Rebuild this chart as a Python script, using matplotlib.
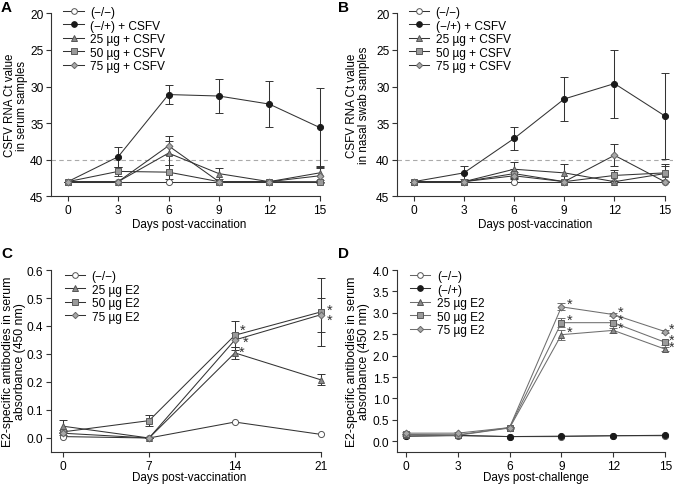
import matplotlib
matplotlib.use("Agg")
import matplotlib.pyplot as plt
from matplotlib.lines import Line2D

plt.rcParams['font.family'] = ['Liberation Sans', 'DejaVu Sans']
plt.rcParams['font.size'] = 8
plt.rcParams['axes.linewidth'] = 0.8

# ---------------- data ----------------
days_ab = [0, 3, 6, 9, 12, 15]
labels_ab = ["(\u2212/\u2212)", "(\u2212/+) + CSFV", "25 \u00b5g + CSFV", "50 \u00b5g + CSFV", "75 \u00b5g + CSFV"]

a_neg = [43, 43, 43, 43, 43, 43]
a_pos = [43, 39.6, 31.1, 31.3, 32.4, 35.6]
a_pos_err = [0, 1.35, 1.35, 2.3, 3.2, 5.4]
a_25 = [43, 43, 39.1, 41.9, 43, 41.8]
a_25_err = [0, 0, 1.6, 0.8, 0, 1.0]
a_50 = [43, 41.6, 41.7, 43, 43, 43]
a_50_err = [0, 0.6, 1.0, 0, 0, 0]
a_75 = [43, 43, 38.1, 43, 43, 42.2]
a_75_err = [0, 0, 1.3, 0, 0, 1.0]

b_neg = [43, 43, 43, 43, 43, 43]
b_pos = [43, 41.8, 37.1, 31.7, 29.6, 34.0]
b_pos_err = [0, 0.9, 1.55, 3.05, 4.65, 5.9]
b_25 = [43, 43, 41.3, 41.8, 43, 41.9]
b_25_err = [0, 0, 1.0, 1.2, 0, 1.0]
b_50 = [43, 43, 41.9, 43, 42.15, 41.8]
b_50_err = [0, 0, 0.6, 0, 0.8, 1.2]
b_75 = [43, 43, 42.2, 43, 39.4, 43]
b_75_err = [0, 0, 0.5, 0, 1.5, 0]

days_c = [0, 7, 14, 21]
labels_c = ["(\u2212/\u2212)", "25 \u00b5g E2", "50 \u00b5g E2", "75 \u00b5g E2"]
c_neg = [0.005, 0.0, 0.057, 0.013]
c_25 = [0.042, 0.0, 0.304, 0.208]
c_25_err = [0.023, 0, 0.022, 0.02]
c_50 = [0.022, 0.062, 0.367, 0.45]
c_50_err = [0.005, 0.02, 0.052, 0.12]
c_75 = [0.017, 0.0, 0.350, 0.44]
c_75_err = [0.005, 0, 0.025, 0.06]

days_d = [0, 3, 6, 9, 12, 15]
labels_d = ["(\u2212/\u2212)", "(\u2212/+)", "25 \u00b5g E2", "50 \u00b5g E2", "75 \u00b5g E2"]
d_neg = [0.12, 0.13, 0.11, 0.11, 0.13, 0.13]
d_pos = [0.12, 0.14, 0.11, 0.12, 0.13, 0.14]
d_25 = [0.15, 0.14, 0.31, 2.49, 2.59, 2.15]
d_25_err = [0.02, 0.02, 0.02, 0.12, 0.06, 0.05]
d_50 = [0.16, 0.15, 0.32, 2.77, 2.77, 2.31]
d_50_err = [0.02, 0.02, 0.02, 0.1, 0.06, 0.05]
d_75 = [0.19, 0.19, 0.32, 3.14, 2.96, 2.56]
d_75_err = [0.02, 0.02, 0.02, 0.08, 0.04, 0.04]

# ---------------- styles ----------------
LC = '#333333'
sty_neg = dict(marker='o', mfc='white', mec='#555555', color=LC)
sty_pos = dict(marker='o', mfc='#1a1a1a', mec='#1a1a1a', color=LC)
sty_25 = dict(marker='^', mfc='#8a8a8a', mec='#555555', color=LC)
sty_50 = dict(marker='s', mfc='#9a9a9a', mec='#5a5a5a', color=LC)
sty_75 = dict(marker='D', mfc='#a8a8a8', mec='#666666', color=LC)
MS = 4.4

def gray_line(sty, c='#6e6e6e'):
    s = dict(sty)
    s['color'] = c
    return s

def msize(sty):
    return MS - 0.9 if sty['marker'] == 'D' else (MS - 0.4 if sty['marker'] == 's' else MS)

def plot_series(ax, x, y, err, sty):
    ax.errorbar(x, y, yerr=err, lw=0.75, elinewidth=0.75,
                capsize=2.8, capthick=0.75, ecolor=sty['color'],
                markersize=msize(sty), markeredgewidth=0.7, clip_on=False,
                **sty)

def style_axes(ax):
    for s in ['top', 'right']:
        ax.spines[s].set_visible(False)
    for s in ['left', 'bottom']:
        ax.spines[s].set_color('#333333')
    ax.tick_params(direction='out', length=3.5, width=0.8, color='#333333',
                   labelsize=8.6, pad=2)

def add_legend(ax, styles, labels, anchor):
    handles = [Line2D([], [], lw=0.75, markersize=msize(s) - 0.3,
                      markeredgewidth=0.7, **s) for s in styles]
    ax.legend(handles, labels, loc='upper left', bbox_to_anchor=anchor,
              frameon=False, handlelength=1.7, handletextpad=0.55,
              labelspacing=0.13, borderpad=0, borderaxespad=0, fontsize=8.6)

W, H = 674, 489
fig = plt.figure(figsize=(W / 100, H / 100), dpi=100)

def px_axes(l, r, t, b):
    return fig.add_axes([l / W, 1 - b / H, (r - l) / W, (b - t) / H])

def set_labels(ax, xl, yl, yfs, ylx, xly):
    ax.set_xlabel(xl, fontsize=8.4)
    ax.xaxis.set_label_coords(0.5, xly)
    ax.set_ylabel(yl, fontsize=yfs, linespacing=1.05)
    ax.yaxis.set_label_coords(ylx, 0.5)

styles5 = [sty_neg, sty_pos, sty_25, sty_50, sty_75]

# ---------------- panel A ----------------
axA = px_axes(51, 328, 14.3, 197.3)
axA.axhline(40, color='#aaaaaa', lw=0.8, ls=(0, (4, 3)), zorder=0)
for y, e, s in zip([a_neg, a_pos, a_25, a_50, a_75],
                   [None, a_pos_err, a_25_err, a_50_err, a_75_err], styles5):
    plot_series(axA, days_ab, y, e, s)
axA.set_xlim(-1, 15.5)
axA.set_ylim(45, 20)
axA.set_xticks(days_ab)
axA.set_yticks([20, 25, 30, 35, 40, 45])
axA.spines['bottom'].set_bounds(-1, 15)
style_axes(axA)
set_labels(axA, 'Days post-vaccination', 'CSFV RNA Ct value\nin serum samples', 8.3, -0.083, -0.12)
add_legend(axA, styles5, labels_ab, (0.045, 1.04))

# ---------------- panel B ----------------
axB = px_axes(397, 673, 14.3, 197.3)
axB.axhline(40, color='#aaaaaa', lw=0.8, ls=(0, (4, 3)), zorder=0)
for y, e, s in zip([b_neg, b_pos, b_25, b_50, b_75],
                   [None, b_pos_err, b_25_err, b_50_err, b_75_err], styles5):
    plot_series(axB, days_ab, y, e, s)
axB.set_xlim(-1, 15.5)
axB.set_ylim(45, 20)
axB.set_xticks(days_ab)
axB.set_yticks([20, 25, 30, 35, 40, 45])
axB.spines['bottom'].set_bounds(-1, 15)
style_axes(axB)
set_labels(axB, 'Days post-vaccination', 'CSFV RNA Ct value\nin nasal swab samples', 8.4, -0.097, -0.12)
add_legend(axB, styles5, labels_ab, (0.043, 1.04))

# ---------------- panel C ----------------
axC = px_axes(51, 328, 271, 453)
styles4 = [sty_neg, sty_25, sty_50, sty_75]
for y, e, s in zip([c_neg, c_25, c_50, c_75],
                   [None, c_25_err, c_50_err, c_75_err], styles4):
    plot_series(axC, days_c, y, e, s)
axC.set_xlim(-1, 21.6)
axC.set_ylim(-0.05, 0.6)
axC.set_xticks(days_c)
c_ticks = [0.0, 0.1, 0.2, 0.3, 0.4, 0.5, 0.6]
axC.set_yticks(c_ticks)
axC.set_yticklabels([f"{v:.1f}" for v in c_ticks])
axC.spines['bottom'].set_bounds(-1, 21)
style_axes(axC)
set_labels(axC, 'Days post-vaccination', 'E2-specific antibodies in serum\nabsorbance (450 nm)', 8.8, -0.09, -0.105)
add_legend(axC, styles4, labels_c, (0.05, 1.0))
star_c = [(days_c[2], c_50[2], 3.5, 4), (days_c[2], c_75[2], 5.5, -1.5),
          (days_c[2], c_25[2], 2.5, 1), (days_c[3], c_50[3], 4.5, 1.5),
          (days_c[3], c_75[3], 4.5, -3.5)]
for x, y, dx, dy in star_c:
    axC.annotate('*', (x, y), xytext=(dx, dy), textcoords='offset points',
                 fontsize=10.5, ha='left', va='center', color='#333333',
                 annotation_clip=False)

# ---------------- panel D ----------------
axD = px_axes(397, 674, 271, 453)
styles_d = [gray_line(sty_neg, '#666666'), sty_pos, gray_line(sty_25),
            gray_line(sty_50), gray_line(sty_75)]
for y, e, s in zip([d_neg, d_pos, d_25, d_50, d_75],
                   [None, None, d_25_err, d_50_err, d_75_err], styles_d):
    plot_series(axD, days_d, y, e, s)
axD.set_xlim(-0.5, 15.5)
axD.set_ylim(-0.25, 4.0)
axD.set_xticks(days_d)
d_ticks = [0.0, 0.5, 1.0, 1.5, 2.0, 2.5, 3.0, 3.5, 4.0]
axD.set_yticks(d_ticks)
axD.set_yticklabels([f"{v:.1f}" for v in d_ticks])
axD.spines['bottom'].set_bounds(-0.5, 15)
style_axes(axD)
set_labels(axD, 'Days post-challenge', 'E2-specific antibodies in serum\nabsorbance (450 nm)', 8.8, -0.097, -0.105)
add_legend(axD, styles_d, labels_d, (0.047, 1.0))
for i in [3, 4, 5]:
    dx = 3.5 if i < 5 else 2.2
    for ys in (d_25, d_50, d_75):
        axD.annotate('*', (days_d[i], ys[i]), xytext=(dx, 2), textcoords='offset points',
                     fontsize=10.5, ha='left', va='center', color='#333333',
                     annotation_clip=False)

# ---------------- panel letters ----------------
for lab, (x, y) in zip("ABCD", [(1, 1), (338, 1), (1, 247), (338, 247)]):
    fig.text(x / W, 1 - y / H, lab, fontsize=11, fontweight='bold', va='top', ha='left')

fig.savefig('out.png', dpi=100)
